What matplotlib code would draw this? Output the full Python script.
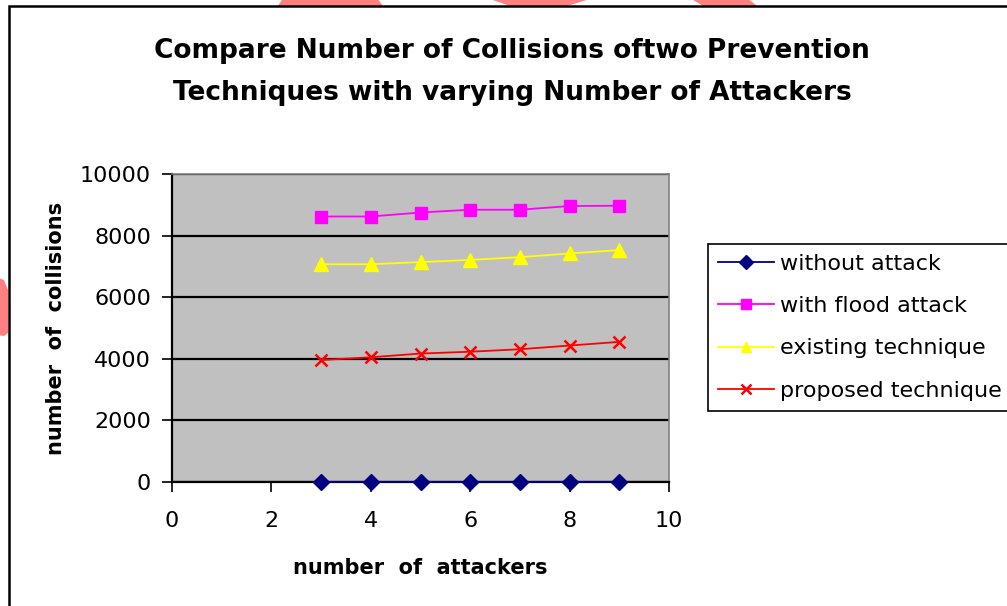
import matplotlib
matplotlib.use("Agg")
import matplotlib.pyplot as plt
from matplotlib.patches import Polygon, Rectangle

plt.rcParams['font.family'] = ['DejaVu Sans']

attackers = [3, 4, 5, 6, 7, 8, 9]
without_attack = [0, 0, 0, 0, 0, 0, 0]
with_flood = [8620, 8620, 8750, 8840, 8840, 8960, 8970]
existing = [7070, 7070, 7140, 7210, 7300, 7420, 7530]
proposed = [3960, 4050, 4170, 4230, 4310, 4430, 4550]

series_labels = ["without attack", "with flood attack", "existing technique", "proposed technique"]
title = "Compare Number of Collisions oftwo Prevention\nTechniques with varying Number of Attackers"
xlabel = "number  of  attackers"
ylabel = "number  of  collisions"
xticks = [0, 2, 4, 6, 8, 10]
yticks = [0, 2000, 4000, 6000, 8000, 10000]

W, H = 1007, 606
fig = plt.figure(figsize=(W / 100, H / 100), dpi=100)

def fx(x):
    return x / W

def fy(y):
    return 1 - y / H

# decorative pink shapes
pink = "#FF8080"
shapes = [
    [(283, -2), (377, -2), (383, 6), (278, 6)],
    [(487, -2), (593, -2), (567, 6), (510, 6)],
    [(690, -2), (747, -2), (757, 6), (703, 6)],
    [(-2, 278), (4, 280), (8, 290), (8, 333), (4, 336), (-2, 335)],
]
for pts in shapes:
    fig.patches.append(Polygon([(fx(a), fy(b)) for a, b in pts], closed=True,
                               transform=fig.transFigure, facecolor=pink,
                               edgecolor='none', zorder=0))

# chart frame
fig.patches.append(Rectangle((fx(9), fy(620)), fx(1020) - fx(9), fy(6) - fy(620),
                             transform=fig.transFigure, facecolor='none',
                             edgecolor='black', linewidth=1.8, zorder=1))

ax = fig.add_axes([fx(172), fy(482), fx(669) - fx(172), fy(174) - fy(482)])
ax.set_facecolor("#C0C0C0")

l1, = ax.plot(attackers, without_attack, color="#000080", marker="D", markersize=8,
              linewidth=1.3, label=series_labels[0], clip_on=False, zorder=5)
l2, = ax.plot(attackers, with_flood, color="#FF00FF", marker="s", markersize=8,
              linewidth=1.3, label=series_labels[1], zorder=4)
l3, = ax.plot(attackers, existing, color="#FFFF00", marker="^", markersize=10,
              linewidth=1.3, label=series_labels[2], zorder=4)
l4, = ax.plot(attackers, proposed, color="#FF0000", marker="x", markersize=8,
              markeredgewidth=1.8, linewidth=1.3, label=series_labels[3], zorder=4)

ax.set_xlim(0, 10)
ax.set_ylim(0, 10000)
ax.set_xticks(xticks)
ax.set_yticks(yticks)
ax.tick_params(axis='both', direction='out', length=7, width=1.2, labelsize=16,
               color='black')
ax.tick_params(axis='x', pad=14)
ax.tick_params(axis='y', pad=8)
ax.yaxis.grid(True, color='black', linewidth=1.6)
ax.set_axisbelow(True)
for s in ['top', 'right']:
    ax.spines[s].set_color('#808080')
    ax.spines[s].set_linewidth(1.2)
for s in ['left', 'bottom']:
    ax.spines[s].set_color('black')
    ax.spines[s].set_linewidth(1.6)

ax.set_xlabel(xlabel, fontsize=15, fontweight='bold', labelpad=19)
ax.set_ylabel(ylabel, fontsize=15, fontweight='bold', labelpad=10)

fig.text(fx(512), fy(72), title, ha='center', va='center', fontsize=19,
         fontweight='bold', linespacing=1.8)

leg = fig.legend(handles=[l1, l2, l3, l4], loc='upper left',
                 bbox_to_anchor=(fx(708), fy(244)), bbox_transform=fig.transFigure,
                 borderaxespad=0, fontsize=16, frameon=True, fancybox=False,
                 framealpha=1.0, labelspacing=1.0, handlelength=2.5,
                 handletextpad=0.3, borderpad=0.45)
leg.get_frame().set_edgecolor('black')
leg.get_frame().set_linewidth(1.2)
for h in leg.legend_handles:
    h.set_markersize(7)

fig.savefig("out.png", dpi=100)
